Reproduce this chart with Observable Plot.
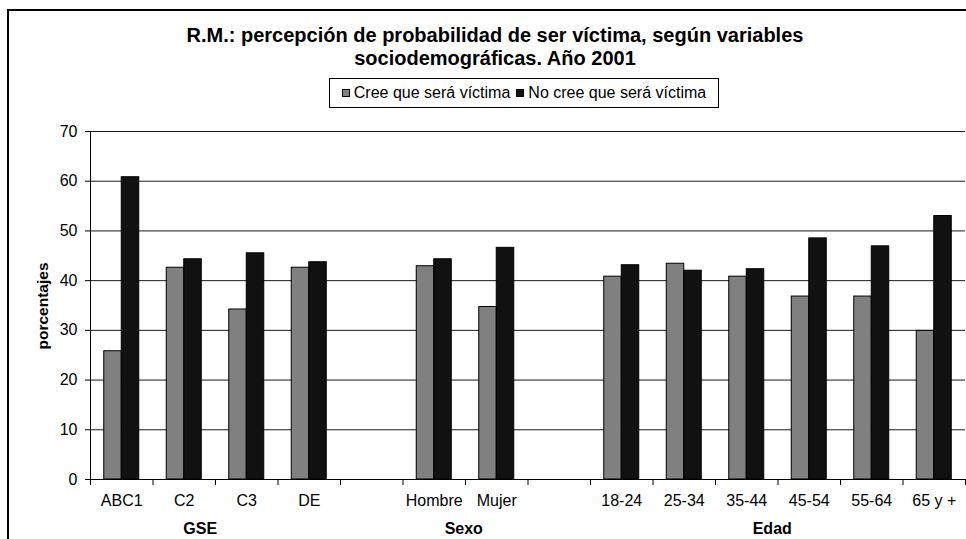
<!DOCTYPE html>
<html>
<head>
<meta charset="utf-8">
<script src="https://cdn.jsdelivr.net/npm/d3@7"></script>
<script src="https://cdn.jsdelivr.net/npm/@observablehq/plot@0.6"></script>
<style>
  html, body { margin: 0; padding: 0; background: #fff; }
  body { width: 966px; height: 539px; overflow: hidden; position: relative; font-family: "Liberation Sans", Arial, sans-serif; color: #000; }
  #frame { position: absolute; left: 7px; top: 9px; width: 1000px; height: 600px; border: 2px solid #000; box-sizing: border-box; }
  #title { position: absolute; left: 95px; top: 24px; width: 800px; text-align: center; font-weight: bold; font-size: 20px; line-height: 23px; }
  #legend { position: absolute; left: 329px; top: 78px; width: 390px; height: 30px; box-sizing: border-box; border: 1px solid #000; display: flex; align-items: center; justify-content: center; font-size: 16px; white-space: nowrap; }
  #legend .sw { display: inline-block; width: 8px; height: 8px; border: 1px solid #000; box-sizing: border-box; margin-right: 4px; }
  #legend .item { display: flex; align-items: center; }
  #legend .item + .item { margin-left: 6px; }
  #ylabel { position: absolute; left: 43px; top: 306px; transform: translate(-50%, -50%) rotate(-90deg); font-weight: bold; font-size: 15.5px; white-space: nowrap; }
  #chart { position: absolute; left: 0; top: 120px; }
</style>
</head>
<body>
<div id="frame"></div>
<div id="title">R.M.: percepción de probabilidad de ser víctima, según variables<br>sociodemográficas. Año 2001</div>
<div id="legend"></div>
<div id="ylabel">porcentajes</div>
<div id="chart"></div>
<script>
// ---- data ----
const categories = ["ABC1", "C2", "C3", "DE", "", "Hombre", "Mujer", " ", "18-24", "25-34", "35-44", "45-54", "55-64", "65 y +"];
const seriesNames = ["Cree que será víctima", "No cree que será víctima"];
const cree   = [25.8, 42.6, 34.2, 42.6, null, 42.9, 34.7, null, 40.8, 43.4, 40.8, 36.8, 36.8, 29.9];
const noCree = [60.8, 44.3, 45.5, 43.7, null, 44.3, 46.6, null, 43.1, 42.0, 42.3, 48.5, 46.9, 53.0];
const yTicks = [0, 10, 20, 30, 40, 50, 60, 70];
const groupNames = ["GSE", "Sexo", "Edad"];
const groupAnchors = ["C2", "Mujer", "45-54"];

const colors = ["#808080", "#111111"];

// legend
const legend = document.getElementById("legend");
seriesNames.forEach((s, i) => {
  const it = document.createElement("span");
  it.className = "item";
  const sw = document.createElement("span");
  sw.className = "sw";
  sw.style.background = colors[i];
  it.appendChild(sw);
  it.appendChild(document.createTextNode(s));
  legend.appendChild(it);
});

const rowsCree = categories.map((c, i) => ({cat: c, value: cree[i]})).filter(d => d.value != null);
const rowsNo = categories.map((c, i) => ({cat: c, value: noCree[i]})).filter(d => d.value != null);
const groups = groupNames.map((g, i) => ({name: g, at: groupAnchors[i]}));

const W = 966, H = 419;
const mL = 90, mR = 1, mT = 11, mB = 60;
const step = (W - mL - mR) / categories.length;
const barW = 17.5;

const plot = Plot.plot({
  width: W,
  height: H,
  marginLeft: mL,
  marginRight: mR,
  marginTop: mT,
  marginBottom: mB,
  style: {fontFamily: "'Liberation Sans', Arial, sans-serif", fontSize: "16px", color: "#000", background: "transparent"},
  x: {domain: categories, padding: 0, round: false},
  y: {domain: [0, 70], round: false},
  marks: [
    Plot.ruleY(yTicks.filter(t => t > 0), {stroke: "#1a1a1a", strokeWidth: 1}),
    Plot.barY(rowsCree, {x: "cat", y: "value", fill: colors[0], stroke: "#000", strokeWidth: 1, insetLeft: step / 2 - barW, insetRight: step / 2}),
    Plot.barY(rowsNo, {x: "cat", y: "value", fill: colors[1], stroke: "#000", strokeWidth: 1, insetLeft: step / 2, insetRight: step / 2 - barW}),
    Plot.ruleY([0], {stroke: "#000"}),
    Plot.ruleX([categories[0]], {y1: 0, y2: 70, dx: -step / 2, stroke: "#000"}),
    Plot.axisY(yTicks, {tickSize: 5, tickPadding: 8, fontSize: 16, label: null}),
    Plot.axisX({tickSize: 0, tickPadding: 15, fontSize: 16, label: null}),
    Plot.axisX({tickSize: 6, tickFormat: () => "", dx: -step / 2, label: null}),
    Plot.axisX([categories[categories.length - 1]], {tickSize: 6, tickFormat: () => "", dx: step / 2, label: null}),
    Plot.text(groups.slice(0, 1), {x: "at", text: "name", frameAnchor: "bottom", dy: 49, dx: 16, fontWeight: "bold", fontSize: 16, lineAnchor: "middle"}),
    Plot.text(groups.slice(1, 2), {x: "at", text: "name", frameAnchor: "bottom", dy: 49, dx: -33, fontWeight: "bold", fontSize: 16, lineAnchor: "middle"}),
    Plot.text(groups.slice(2, 3), {x: "at", text: "name", frameAnchor: "bottom", dy: 49, dx: -37, fontWeight: "bold", fontSize: 16, lineAnchor: "middle"})
  ]
});
document.getElementById("chart").appendChild(plot);
</script>
</body>
</html>
